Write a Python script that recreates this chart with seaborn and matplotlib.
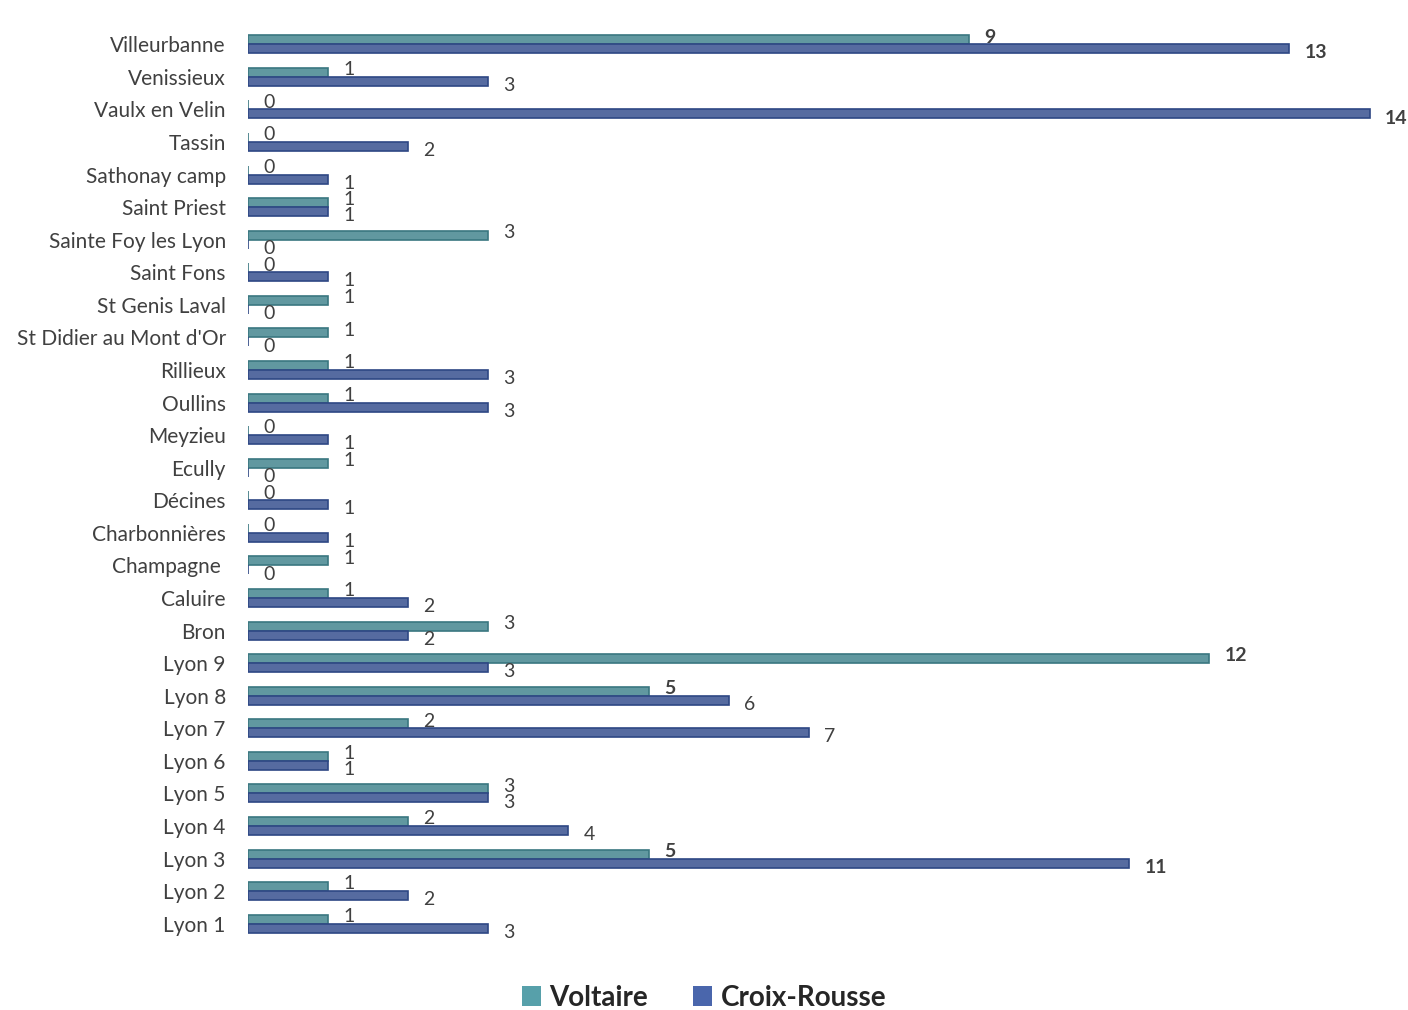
import pandas as pd
import matplotlib.pyplot as plt
import seaborn as sns
from matplotlib.patches import Patch

# Data
communes = ['Villeurbanne', 'Venissieux', 'Vaulx en Velin', 'Tassin', 'Sathonay camp',
            'Saint Priest', 'Sainte Foy les Lyon', 'Saint Fons', 'St Genis Laval',
            "St Didier au Mont d'Or", 'Rillieux', 'Oullins', 'Meyzieu', 'Ecully',
            'Décines', 'Charbonnières', 'Champagne ', 'Caluire', 'Bron', 'Lyon 9',
            'Lyon 8', 'Lyon 7', 'Lyon 6', 'Lyon 5', 'Lyon 4', 'Lyon 3', 'Lyon 2', 'Lyon 1']
voltaire = [9, 1, 0, 0, 0, 1, 3, 0, 1, 1, 1, 1, 0, 1, 0, 0, 1, 1, 3, 12,
            5, 2, 1, 3, 2, 5, 1, 1]
croix_rousse = [13, 3, 14, 2, 1, 1, 0, 1, 0, 0, 3, 3, 1, 0, 1, 1, 0, 2, 2, 3,
                6, 7, 1, 3, 4, 11, 2, 3]
series = ['Voltaire', 'Croix-Rousse']
bold_values = [5, 9, 11, 12, 13, 14]

df = pd.DataFrame({
    'Commune': communes * 2,
    'Site': [series[0]] * len(communes) + [series[1]] * len(communes),
    'Nombre': voltaire + croix_rousse,
})

colors = {'Voltaire': '#57A0AA', 'Croix-Rousse': '#4A66AC'}
edges = {'Voltaire': '#3A7780', 'Croix-Rousse': '#2E4784'}

sns.set_theme(style='white')
plt.rcParams['font.family'] = ['Lato', 'DejaVu Sans']

fig = plt.figure(figsize=(14.08, 10.10), dpi=100)
ax = fig.add_axes([248 / 1408, 0.0693, 1 - 248 / 1408, 0.903])

sns.barplot(data=df, x='Nombre', y='Commune', hue='Site', orient='h',
            palette=colors, width=0.55, ax=ax, legend=False)

# darker outline for the bevelled look
for container, name in zip(ax.containers, series):
    for bar in container:
        bar.set_edgecolor(edges[name])
        bar.set_linewidth(1.2)

# value labels
for container, name in zip(ax.containers, series):
    dy = -2 if name == 'Voltaire' else 3
    for bar in container:
        val = int(round(bar.get_width()))
        yc = bar.get_y() + bar.get_height() / 2
        ax.annotate(str(val), (bar.get_width(), yc), xytext=(11, -dy),
                    textcoords='offset points', va='center', ha='left',
                    fontsize=14, color='#404040',
                    fontweight='bold' if val in bold_values else 'normal',
                    annotation_clip=False)

ax.set_xlim(0, 14.48)
ax.set_ylim(len(communes) - 0.5, -0.5)
ax.set_xlabel('')
ax.set_ylabel('')
ax.set_xticks([])
ax.tick_params(axis='y', length=0, pad=16, labelsize=15, labelcolor='#404040')
sns.despine(ax=ax, left=True, bottom=True)

handles = [Patch(facecolor=colors[s], edgecolor='none') for s in series]
fig.legend(handles, series, loc='center', bbox_to_anchor=(0.5, 0.012),
           ncol=2, frameon=False, handlelength=0.7, handleheight=0.7,
           handletextpad=0.3, columnspacing=1.6,
           prop={'weight': 'bold', 'size': 20})

fig.savefig('out.png', dpi=100)
